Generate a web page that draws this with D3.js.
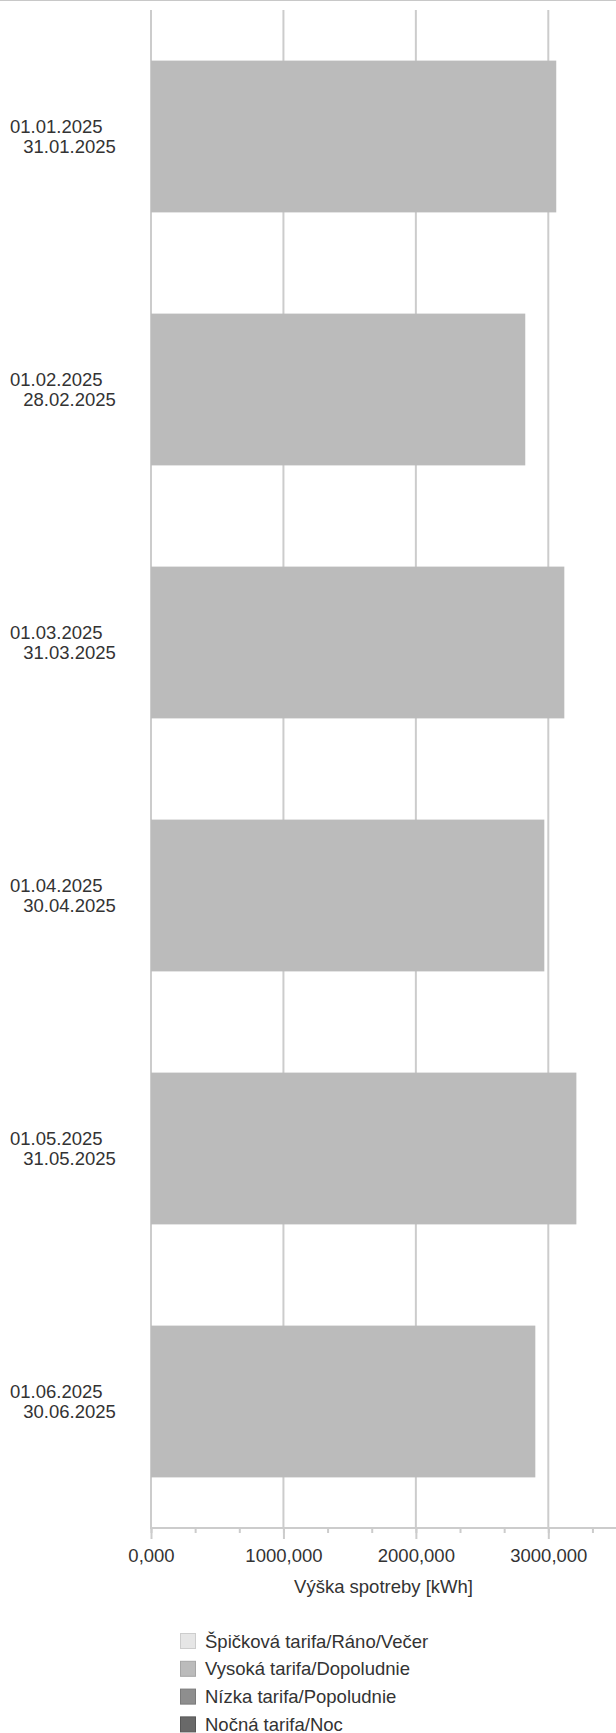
<!DOCTYPE html>
<html>
<head>
<meta charset="utf-8">
<script src="https://cdn.jsdelivr.net/npm/d3@7"></script>
<style>
  body { margin: 0; background: #fff; }
  text { font-family: "Liberation Sans", Arial, sans-serif; fill: #333; }
</style>
</head>
<body>
<div id="graph"></div>
<script>
// periods (two lines per label)
var periodFrom = ["01.01.2025", "01.02.2025", "01.03.2025", "01.04.2025", "01.05.2025", "01.06.2025"]
var periodTo = ["31.01.2025", "28.02.2025", "31.03.2025", "30.04.2025", "31.05.2025", "30.06.2025"]

// consumption per tariff [kWh]
var spickova = [0, 0, 0, 0, 0, 0]
var vysoka = [3060, 2826, 3121, 2970, 3212, 2902]
var nizka = [0, 0, 0, 0, 0, 0]
var nocna = [0, 0, 0, 0, 0, 0]

var seriesNames = ["Špičková tarifa/Ráno/Večer", "Vysoká tarifa/Dopoludnie", "Nízka tarifa/Popoludnie", "Nočná tarifa/Noc"]
var seriesColors = ["#e6e6e6", "#bbbbbb", "#8e8e8e", "#696969"]
var seriesBorders = ["#cdcdcd", "#a6a6a6", "#7a7a7a", "#575757"]

var xTicks = [0, 1000, 2000, 3000]
var xTitle = "Výška spotreby [kWh]"

//graph dimensions
var W = 616, H = 1733
var plotLeft = 151, plotTop = 10, plotBottom = 1528
var fontSize = 18.5

var svg = d3.select("#graph")
.append("svg")
  .attr("width", W)
  .attr("height", H)

// top border
svg.append("line")
  .attr("x1", 0).attr("x2", W)
  .attr("y1", 0.5).attr("y2", 0.5)
  .attr("stroke", "#c8c8c8")

//scales
var x = d3.scaleLinear()
  .domain([0, 3500])
  .range([plotLeft, plotLeft + 3500 * (548.3 - plotLeft) / 3000])

var y = d3.scaleBand()
  .domain(periodFrom)
  .range([plotTop, plotBottom])
  .paddingInner(0.4)
  .paddingOuter(0.2)

// gridlines
svg.selectAll("line.grid")
.data(xTicks)
.enter()
.append("line")
  .attr("class", "grid")
  .attr("x1", function(d){ return x(d) })
  .attr("x2", function(d){ return x(d) })
  .attr("y1", plotTop)
  .attr("y2", plotBottom)
  .attr("stroke", "#cccccc")
  .attr("stroke-width", 2)

// stacked bars
var table = periodFrom.map(function(p, i){
  return { period: p, s0: spickova[i], s1: vysoka[i], s2: nizka[i], s3: nocna[i] }
})
var stacked = d3.stack().keys(["s0", "s1", "s2", "s3"])(table)

svg.selectAll("g.layer")
.data(stacked)
.enter()
.append("g")
  .attr("fill", function(d, i){ return seriesColors[i] })
.selectAll("rect")
.data(function(d){ return d })
.enter()
.append("rect")
  .attr("x", function(d){ return x(d[0]) })
  .attr("y", function(d){ return y(d.data.period) })
  .attr("width", function(d){ return x(d[1]) - x(d[0]) })
  .attr("height", y.bandwidth())

// category labels
var labels = svg.selectAll("text.cat")
.data(periodFrom)
.enter()
.append("text")
  .attr("class", "cat")
  .attr("font-size", fontSize)
labels.append("tspan")
  .attr("x", 10)
  .attr("y", function(d){ return y(d) + y.bandwidth() / 2 - 10.3 })
  .attr("dominant-baseline", "central")
  .text(function(d){ return d })
labels.append("tspan")
  .attr("x", 23.3)
  .attr("y", function(d){ return y(d) + y.bandwidth() / 2 + 10.3 })
  .attr("dominant-baseline", "central")
  .text(function(d, i){ return periodTo[i] })

// x axis line
svg.append("line")
  .attr("x1", plotLeft - 1).attr("x2", W)
  .attr("y1", plotBottom).attr("y2", plotBottom)
  .attr("stroke", "#cccccc")
  .attr("stroke-width", 2)

// minor ticks
var minorAxis = d3.axisBottom(x)
  .tickValues(d3.range(0, 3500, 1000 / 3))
  .tickSize(5)
  .tickFormat("")
var gMinor = svg.append("g")
  .attr("transform", "translate(0," + plotBottom + ")")
  .call(minorAxis)
gMinor.select(".domain").remove()
gMinor.selectAll("line").attr("stroke", "#cccccc").attr("stroke-width", 2)

// major ticks
var fmt = function(d){ return d3.format(".3f")(d).replace(".", ",") }
var majorAxis = d3.axisBottom(x)
  .tickValues(xTicks)
  .tickSize(11)
  .tickFormat(fmt)
var gMajor = svg.append("g")
  .attr("transform", "translate(0," + plotBottom + ")")
  .call(majorAxis)
gMajor.select(".domain").remove()
gMajor.selectAll("line").attr("stroke", "#cccccc").attr("stroke-width", 2)
gMajor.selectAll("text")
  .attr("y", 27.5)
  .attr("dy", null)
  .attr("dominant-baseline", "central")
  .style("font-family", "Liberation Sans, Arial, sans-serif")
  .style("font-size", fontSize + "px")
  .attr("fill", "#333")

// axis title
svg.append("text")
  .attr("x", (plotLeft + W) / 2)
  .attr("y", 1586.7)
  .attr("text-anchor", "middle")
  .attr("dominant-baseline", "central")
  .attr("font-size", fontSize)
  .text(xTitle)

// legend
var legend = svg.selectAll("g.leg")
.data(seriesNames)
.enter()
.append("g")
  .attr("class", "leg")
  .attr("transform", function(d, i){ return "translate(180," + (1641 + i * 27.8) + ")" })
legend.append("rect")
  .attr("x", 0.5)
  .attr("y", -7.5)
  .attr("width", 15)
  .attr("height", 15)
  .attr("fill", function(d, i){ return seriesColors[i] })
  .attr("stroke", function(d, i){ return seriesBorders[i] })
legend.append("text")
  .attr("x", 25)
  .attr("y", 0)
  .attr("dominant-baseline", "central")
  .attr("font-size", fontSize)
  .text(function(d){ return d })
</script>
</body>
</html>
